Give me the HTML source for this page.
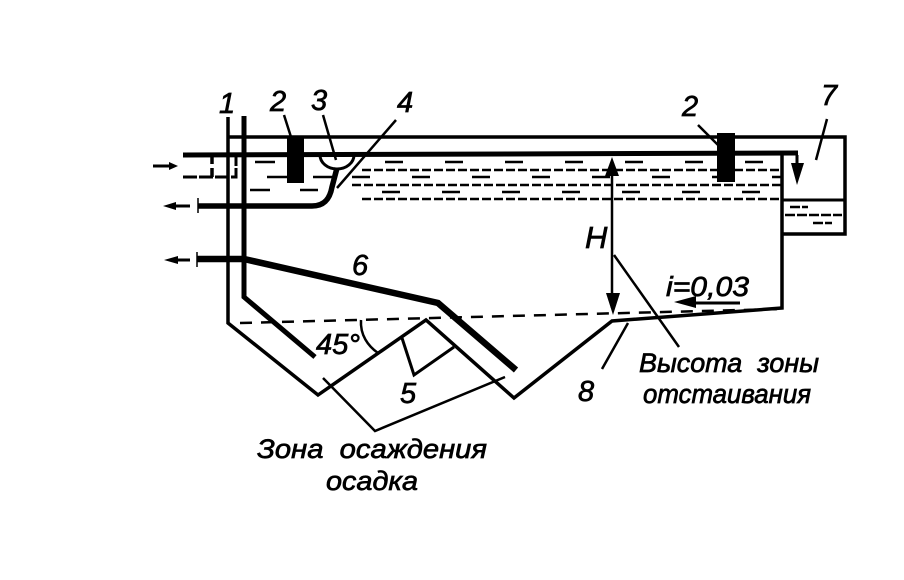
<!DOCTYPE html>
<html lang="ru"><head><meta charset="utf-8"><style>
html,body{margin:0;padding:0;background:#fff}
svg{display:block}
text{font-family:"Liberation Sans",sans-serif;font-style:italic;fill:#000;stroke:#000;stroke-width:.7}
</style></head><body>
<svg width="904" height="580" viewBox="0 0 904 580" xmlns="http://www.w3.org/2000/svg">
<g fill="none" stroke="#000" stroke-linejoin="miter">
<!-- top and water surface -->
<path d="M227 137H845V234H782" stroke-width="3.5"/>
<path d="M183 155L798 153" stroke-width="5"/>
<path d="M782 155V308L612 321L514 398L426 320L318 395L228 323V117" stroke-width="3.5"/>
<path d="M782 200H845" stroke-width="3"/>
<!-- thick walls -->
<path d="M244 116V297L315 357" stroke-width="5"/>
<path d="M197 259L244 259L438 303L516 370" stroke-width="6.5"/>
<path d="M198 206H312C325 206 330 198 332 187L337 168" stroke-width="5.5"/>
<!-- gutter -->
<path d="M320 155A17 14 0 0 0 354 155" stroke-width="3"/>
<!-- inlet -->
<path d="M183 177H236V155" stroke-width="3" stroke-dasharray="14 2"/>
<path d="M212 155V177" stroke-width="3.5" stroke-dasharray="9 4"/>
<path d="M198 198V213M197 252V267" stroke-width="1.5"/>
<!-- H dimension -->
<path d="M612 170V308" stroke-width="2.5"/>
<!-- slope dashed line -->
<path d="M240 323L780 309" stroke-width="2.5" stroke-dasharray="12 9"/>
<!-- dash rows -->
<path d="M362 170H782M352 185H782M362 199H782" stroke-width="2.5" stroke-dasharray="9 3"/>
<path d="M385 162H782" stroke-width="2.5" stroke-dasharray="18 42"/>
<path d="M352 177H782" stroke-width="2.5" stroke-dasharray="18 42"/>
<path d="M382 192H782" stroke-width="2.5" stroke-dasharray="18 42"/>
<path d="M255 162H275M267 177H287M250 190H270M300 190H318M313 177H332" stroke-width="2.5"/>
<path d="M790 207H808M785 215H842M813 223H832" stroke-width="2.5" stroke-dasharray="10 2"/>
<!-- leaders -->
<path d="M284 115L291 137M323 115L336 160M337 188L396 120M698 125L719 146M827 119L816 160" stroke-width="2.5"/>
<path d="M614 255L679 347M628 323L602 369" stroke-width="2.5"/>
<!-- zone bracket -->
<path d="M323 378L375 431L505 377" stroke-width="2.5"/>
<path d="M402 338L414 375L454 347" stroke-width="3"/>
<path d="M361 320C360 335 368 346 378 353" stroke-width="2.5"/>
<!-- arrows shafts -->
<path d="M153 166H172M169 206H190M169 260H190M740 303H690" stroke-width="3"/>
<path d="M797 155V170" stroke-width="3"/>
</g>
<g fill="#000">
<rect x="287" y="137" width="17" height="46"/>
<rect x="717" y="133" width="18" height="49"/>
<path d="M178 166L169 162V170Z"/>
<path d="M163 206L176 202V210Z"/>
<path d="M164 260L178 256V264Z"/>
<path d="M612 157L605 176H619Z"/>
<path d="M613 315L606 293H620Z"/>
<path d="M797 185L791 163H804Z"/>
<path d="M674 302L696 296V308Z"/>
</g>
<text x="219" y="113" font-size="29">1</text>
<text x="270" y="111" font-size="29">2</text>
<text x="311" y="110" font-size="29">3</text>
<text x="397" y="112" font-size="29">4</text>
<text x="682" y="116" font-size="29">2</text>
<text x="821" y="105" font-size="29">7</text>
<text x="352" y="275" font-size="29">6</text>
<text x="400" y="403" font-size="29">5</text>
<text x="578" y="401" font-size="29">8</text>
<text x="585" y="248" font-size="31">H</text>
<text x="316" y="354" font-size="29" textLength="44" lengthAdjust="spacingAndGlyphs">45°</text>
<text x="666" y="296" font-size="28" textLength="83" lengthAdjust="spacingAndGlyphs">i=0,03</text>
<text x="257" y="458" font-size="27" xml:space="preserve" textLength="230" lengthAdjust="spacingAndGlyphs">Зона  осаждения</text>
<text x="326" y="490" font-size="27" textLength="92" lengthAdjust="spacingAndGlyphs">осадка</text>
<text x="639" y="372" font-size="27" xml:space="preserve" textLength="180" lengthAdjust="spacingAndGlyphs">Высота  зоны</text>
<text x="643" y="403" font-size="27" textLength="168" lengthAdjust="spacingAndGlyphs">отстаивания</text>
</svg>
</body></html>
